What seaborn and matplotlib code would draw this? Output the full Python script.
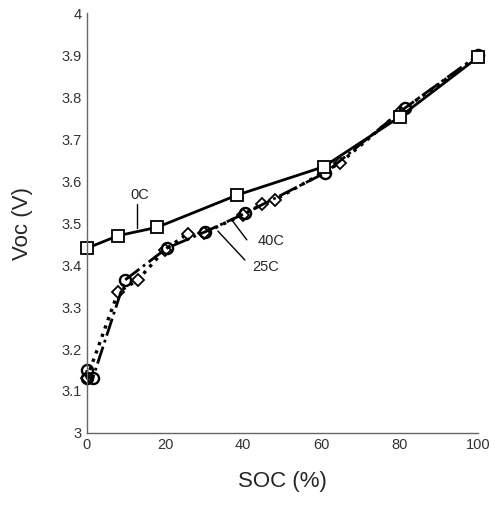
import matplotlib
matplotlib.use("Agg")
import matplotlib.pyplot as plt
import seaborn as sns

# -----------------------------
# DATA
# -----------------------------
soc_0c = [0, 8, 18, 38.5, 60.5, 80, 100]
voc_0c = [3.44, 3.47, 3.49, 3.567, 3.634, 3.753, 3.895]

soc_40c = [0, 0, 1.5, 9.7, 20.4, 30.2, 40.4, 61, 81.3, 100]
voc_40c = [3.15, 3.131, 3.13, 3.364, 3.44, 3.479, 3.523, 3.62, 3.774, 3.9]

soc_25c = [0, 8, 13, 20, 25.8, 30, 40, 44.8, 48, 64.7, 80, 100]
voc_25c = [3.13, 3.336, 3.364, 3.437, 3.475, 3.477, 3.52, 3.545, 3.555, 3.643, 3.765, 3.897]

x_ticks = [0, 20, 40, 60, 80, 100]
y_ticks = [3, 3.1, 3.2, 3.3, 3.4, 3.5, 3.6, 3.7, 3.8, 3.9, 4]
y_labels = ["3", "3.1", "3.2", "3.3", "3.4", "3.5", "3.6", "3.7", "3.8", "3.9", "4"]

# -----------------------------
# PLOT
# -----------------------------
sns.set_style("white")
plt.rcParams['font.family'] = ['Liberation Sans', 'DejaVu Sans']

fig = plt.figure(figsize=(4.99, 5.07), dpi=100)
ax = fig.add_axes([0.174, 0.146, 0.784, 0.828])

sns.lineplot(x=soc_25c, y=voc_25c, ax=ax, sort=False, estimator=None,
             color="black", linestyle=":", linewidth=2.4,
             marker="D", markersize=6, markerfacecolor="white",
             markeredgecolor="black", markeredgewidth=1.3, clip_on=False)
sns.lineplot(x=soc_40c, y=voc_40c, ax=ax, sort=False, estimator=None,
             color="black", linestyle="-.", linewidth=2.0,
             marker="o", markersize=8, markerfacecolor="none",
             markeredgecolor="black", markeredgewidth=1.7, clip_on=False)
sns.lineplot(x=soc_0c, y=voc_0c, ax=ax, sort=False, estimator=None,
             color="black", linestyle="-", linewidth=2.0,
             marker="s", markersize=8, markerfacecolor="white",
             markeredgecolor="black", markeredgewidth=1.3, clip_on=False)

ax.set_xlim(0, 100)
ax.set_ylim(3, 4)
ax.set_xticks(x_ticks)
ax.set_yticks(y_ticks)
ax.set_yticklabels(y_labels)
ax.tick_params(direction="in", length=3, width=0.8, colors="#555555",
               labelsize=10.5, labelcolor="#333333")

for s in ["top", "right"]:
    ax.spines[s].set_visible(False)
for s in ["left", "bottom"]:
    ax.spines[s].set_color("#666666")
    ax.spines[s].set_linewidth(1.0)

ax.set_xlabel("SOC (%)", fontsize=16, labelpad=14)
ax.set_ylabel("Voc (V)", fontsize=16, labelpad=21)

# labels with leader lines
ax.text(13.5, 3.567, "0C", fontsize=10.5, ha="center", va="center")
ax.plot([12.8, 12.8], [3.545, 3.488], color="black", linewidth=1)
ax.text(47, 3.457, "40C", fontsize=10.5, ha="center", va="center")
ax.plot([37.1, 40.9], [3.507, 3.46], color="black", linewidth=1)
ax.text(45.7, 3.395, "25C", fontsize=10.5, ha="center", va="center")
ax.plot([33.5, 40.4], [3.481, 3.412], color="black", linewidth=1)

for lab in ax.get_xticklabels():
    lab.set_clip_on(False)

fig.savefig("out.png", dpi=100)
